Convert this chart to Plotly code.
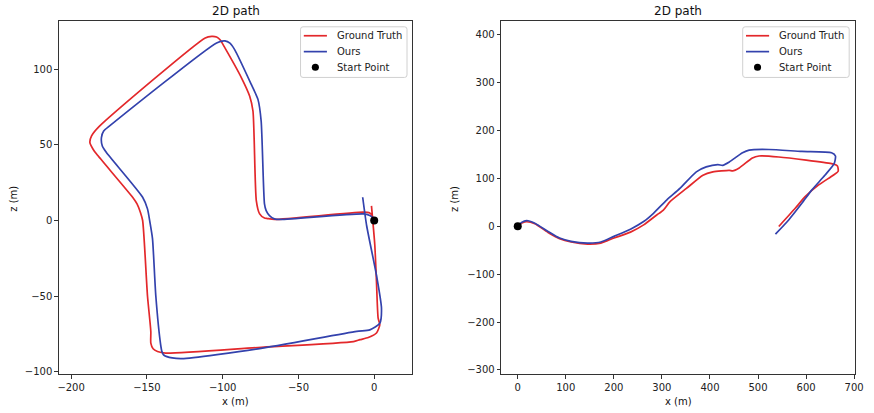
import plotly.graph_objects as go

# ---- Left panel (loop trajectory) ----
gt_left_x = [0, -1.5, -2.9, -7.2, -65.9, -70.5, -72.4, -75.6, -77.8, -80.0, -82.2, -87.6, -98.5,
             -101.7, -104.0, -107.2, -111.5, -181.1, -186.5, -187.6, -185.5, -183.2, -159.4, -156.5,
             -154.3, -152.8, -149.6, -147.4, -147.4, -145.9, -143.0, -137.6, -76.7, -13.7, -9.4,
             -3.9, 1.5, 3.7, 2.6, 1.5, 0.4, -1.8]
gt_left_y = [0, 3.5, 4.9, 5.5, 0.7, 1.3, 1.6, 4.4, 13.2, 72.5, 82.4, 94.5, 114.3,
             119.7, 121.5, 121.9, 120.9, 62.6, 56.0, 51.6, 47.2, 44.0, 15.4, 11.0,
             5.5, 0.0, -50.0, -73.5, -81.2, -84.9, -86.7, -87.8, -84.1, -80.2, -78.9,
             -77.5, -74.5, -69.0, -64.7, -40.5, -16.4, 9.7]

ours_left_x = [0, -0.7, -2.9, -7.2, -61.6, -65.9, -69.1, -71.3, -72.4, -74.6, -76.7, -81.1, -92.0,
               -95.2, -98.5, -104.0, -174.6, -178.5, -180.0, -179.4, -176.7, -152.8, -149.6,
               -148.0, -146.3, -144.1, -140.9, -140.0, -138.7, -133.3, -126.8, -76.7, -11.5,
               -2.9, 3.7, 4.8, 1.5, -5.0, -7.6]
ours_left_y = [0, 1.6, 3.3, 4.4, 0.7, 1.1, 3.3, 6.6, 11.0, 65.9, 80.2, 90.1, 113.0,
               117.4, 118.9, 117.6, 62.6, 59.2, 54.8, 49.3, 45.0, 15.4, 7.7,
               -1.0, -12.0, -50.0, -82.3, -87.0, -89.2, -91.0, -91.5, -85.0, -73.4,
               -72.4, -68.0, -58.1, -36.2, -3.3, 15.4]

# ---- Right panel (long trajectory) ----
gt_right_x = [0, 10, 18.5, 35.6, 63, 87, 111, 145.3, 172.8, 200.2, 234.6, 262, 289.3, 303,
              316.9, 351, 385.4, 406, 440.3, 447.1, 460.9, 488.3, 502, 543.2, 652.9, 665.2,
              666.7, 656.4, 625.5, 598, 577.4, 543.2]
gt_right_y = [0, 7, 9.2, 5, -13, -26, -33, -37.3, -35.2, -24.8, -12.4, 2.7, 23.4, 33.7,
              51.1, 78.7, 106.2, 113.3, 116.6, 115.3, 121.5, 142.2, 146.4, 144.3, 130.4, 125.7,
              114.5, 106.2, 85.5, 61.5, 37.3, -0.6]

ours_right_x = [0, 8, 18.5, 35.6, 63, 87, 111, 145.3, 172.8, 200.2, 234.6, 262, 282.5, 309.9,
                337.4, 371.6, 392.2, 416.3, 426.5, 440.3, 467.7, 481.5, 522.6, 591.2, 652.9,
                661.1, 658.4, 639.1, 611.7, 591.2, 563.8, 536.2]
ours_right_y = [0, 8, 11.8, 6.2, -11, -24.8, -31.7, -35.2, -33.1, -21.3, -6.2, 9.7, 26.9, 54.5,
                78.7, 113.3, 123.6, 128.4, 126.9, 134, 153.2, 158.8, 160, 155.9, 153.2,
                146.4, 130.4, 106.2, 75.2, 47.6, 13, -16.6]

start_x = [0]
start_y = [0]

legend_labels = ["Ground Truth", "Ours", "Start Point"]

left_xticks = [-200, -150, -100, -50, 0]
left_yticks = [-100, -50, 0, 50, 100]
right_xticks = [0, 100, 200, 300, 400, 500, 600, 700]
right_yticks = [-300, -200, -100, 0, 100, 200, 300, 400]

RED = "#e3282b"
BLUE = "#3342ad"
W, H = 874, 413
FONT = "DejaVu Sans"

fig = go.Figure()

def add_panel(gx, gy, ox, oy, xa, ya):
    fig.add_trace(go.Scatter(x=gx, y=gy, mode="lines", name=legend_labels[0],
                             line=dict(color=RED, width=1.7, shape="spline", smoothing=0.6),
                             xaxis=xa, yaxis=ya, showlegend=False))
    fig.add_trace(go.Scatter(x=ox, y=oy, mode="lines", name=legend_labels[1],
                             line=dict(color=BLUE, width=1.7, shape="spline", smoothing=0.6),
                             xaxis=xa, yaxis=ya, showlegend=False))
    fig.add_trace(go.Scatter(x=start_x, y=start_y, mode="markers", name=legend_labels[2],
                             marker=dict(color="black", size=8),
                             xaxis=xa, yaxis=ya, showlegend=False))

add_panel(gt_left_x, gt_left_y, ours_left_x, ours_left_y, "x", "y")
add_panel(gt_right_x, gt_right_y, ours_right_x, ours_right_y, "x2", "y2")

def px2x(p):
    return p / W

def py2y(p):
    return 1 - p / H

ax_common = dict(showline=True, mirror=True, linecolor="#333", linewidth=1,
                 ticks="outside", ticklen=3.5, tickwidth=0.8, tickcolor="#333",
                 showgrid=False, zeroline=False,
                 tickfont=dict(family=FONT, size=10, color="#222"))

L0, L1 = 58.5, 416.0
R0, R1 = 506.0, 863.7
T, B = 21.3, 377.0

fig.update_layout(
    width=W, height=H,
    margin=dict(l=0, r=0, t=0, b=0),
    paper_bgcolor="white", plot_bgcolor="white",
    font=dict(family=FONT, size=10, color="#222"),
    xaxis=dict(domain=[px2x(L0), px2x(L1)], range=[-208.1, 25.1], tickvals=left_xticks,
               anchor="y", **ax_common),
    yaxis=dict(domain=[py2y(B), py2y(T)], range=[-101.8, 132.0], tickvals=left_yticks,
               anchor="x", **ax_common),
    xaxis2=dict(domain=[px2x(R0), px2x(R1)], range=[-34.4, 701.4], tickvals=right_xticks,
                anchor="y2", **ax_common),
    yaxis2=dict(domain=[py2y(B), py2y(T)], range=[-308.9, 427.7], tickvals=right_yticks,
                anchor="x2", **ax_common),
    showlegend=False,
)

annos = [
    dict(text="2D path", x=px2x((L0 + L1) / 2), y=py2y(11), size=12),
    dict(text="2D path", x=px2x((R0 + R1) / 2), y=py2y(11), size=12),
    dict(text="x (m)", x=px2x((L0 + L1) / 2), y=py2y(404), size=10),
    dict(text="x (m)", x=px2x((R0 + R1) / 2), y=py2y(404), size=10),
]
for a in annos:
    fig.add_annotation(text=a["text"], x=a["x"], y=a["y"], xref="paper", yref="paper",
                       xanchor="center", yanchor="middle", showarrow=False,
                       font=dict(family=FONT, size=a["size"], color="#111"))
for xp in (12.3, 458.7):
    fig.add_annotation(text="z (m)", x=px2x(xp), y=py2y(200), xref="paper", yref="paper",
                       xanchor="center", yanchor="middle", showarrow=False, textangle=-90,
                       font=dict(family=FONT, size=10, color="#111"))

# ---- legends (matplotlib-style, drawn per panel) ----
def draw_legend(x0, x1, y0, y1):
    r = 2.5
    def P(px, py):
        return f"{px2x(px):.6f},{py2y(py):.6f}"
    path = (f"M {P(x0 + r, y0)} L {P(x1 - r, y0)} Q {P(x1, y0)} {P(x1, y0 + r)} "
            f"L {P(x1, y1 - r)} Q {P(x1, y1)} {P(x1 - r, y1)} "
            f"L {P(x0 + r, y1)} Q {P(x0, y1)} {P(x0, y1 - r)} "
            f"L {P(x0, y0 + r)} Q {P(x0, y0)} {P(x0 + r, y0)} Z")
    fig.add_shape(type="path", path=path, xref="paper", yref="paper",
                  fillcolor="rgba(255,255,255,0.8)", line=dict(color="#d0d0d0", width=1),
                  layer="above")
    rows = [36.0, 52.0, 67.7]
    hx0, hx1 = x0 + 3.3, x0 + 26.7
    for i, (lab, ry) in enumerate(zip(legend_labels, rows)):
        if i < 2:
            fig.add_shape(type="line", xref="paper", yref="paper",
                          x0=px2x(hx0), x1=px2x(hx1), y0=py2y(ry), y1=py2y(ry),
                          line=dict(color=[RED, BLUE][i], width=1.7), layer="above")
        else:
            rr = 3.6
            fig.add_shape(type="circle", xref="paper", yref="paper",
                          x0=px2x((hx0 + hx1) / 2 - rr), x1=px2x((hx0 + hx1) / 2 + rr),
                          y0=py2y(ry + rr), y1=py2y(ry - rr),
                          fillcolor="black", line=dict(color="black", width=0), layer="above")
        fig.add_annotation(text=lab, x=px2x(x0 + 35), y=py2y(ry), xref="paper", yref="paper",
                           xanchor="left", yanchor="middle", showarrow=False,
                           font=dict(family=FONT, size=10, color="#222"))

draw_legend(303.0, 410.7, 27.0, 78.0)
draw_legend(750.3, 858.0, 27.0, 78.0)

fig.write_html("out.html", config={"displayModeBar": False},
               post_script="document.body.style.margin='0';document.body.style.overflow='hidden';")
